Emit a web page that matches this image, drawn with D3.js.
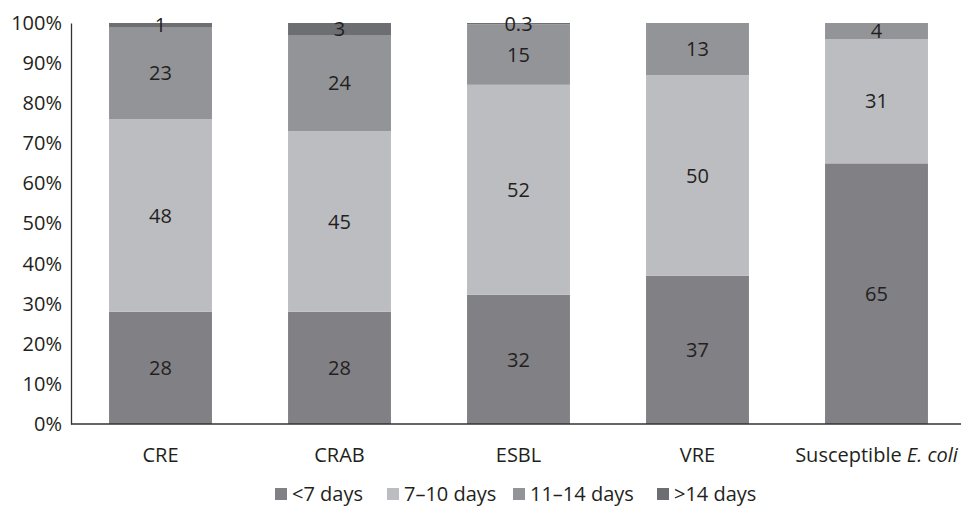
<!DOCTYPE html>
<html>
<head>
<meta charset="utf-8">
<script src="https://cdn.jsdelivr.net/npm/d3@7"></script>
<style>
  body { margin: 0; background: #fff; }
  text { font-family: "Open Sans", "Noto Sans", sans-serif; fill: #231f20; }
</style>
</head>
<body>
<svg id="chart" width="961" height="508"></svg>
<script>
var categories = ["CRE", "CRAB", "ESBL", "VRE", "Susceptible E. coli"];
var seriesNames = ["<7 days", "7\u201310 days", "11\u201314 days", ">14 days"];
var under7 = [28, 28, 32, 37, 65];
var days7to10 = [48, 45, 52, 50, 31];
var days11to14 = [23, 24, 15, 13, 4];
var over14 = [1, 3, 0.3, 0, 0];
var yTicks = [0, 0.1, 0.2, 0.3, 0.4, 0.5, 0.6, 0.7, 0.8, 0.9, 1];
var colors = ["#808085", "#bcbdc1", "#939498", "#6d6e72"];

var seriesValues = [under7, days7to10, days11to14, over14];
var rows = categories.map(function(c, i) {
  var r = { cat: c };
  seriesNames.forEach(function(s, j) { r[s] = seriesValues[j][i]; });
  return r;
});

var svg = d3.select("#chart");
var plotLeft = 71, plotRight = 966, plotTop = 23, plotBottom = 424;

var x = d3.scaleBand().domain(categories).range([plotLeft, plotRight]).paddingInner(0.425).paddingOuter(0.2125);
var y = d3.scaleLinear().domain([0, 1]).range([plotBottom, plotTop]);

var stack = d3.stack().keys(seriesNames).offset(d3.stackOffsetExpand);
var layers = stack(rows);

var g = svg.append("g");
layers.forEach(function(layer, j) {
  g.selectAll(null)
    .data(layer)
    .enter().append("rect")
    .attr("x", function(d) { return x(d.data.cat); })
    .attr("width", x.bandwidth())
    .attr("y", function(d) { return y(d[1]); })
    .attr("height", function(d) { return y(d[0]) - y(d[1]); })
    .attr("fill", colors[j]);
});

// segment value labels
layers.forEach(function(layer, j) {
  g.selectAll(null)
    .data(layer.filter(function(d) { return d.data[layer.key] > 0; }))
    .enter().append("text")
    .attr("x", function(d) { return x(d.data.cat) + x.bandwidth() / 2; })
    .attr("y", function(d) { return y((d[0] + d[1]) / 2); })
    .attr("dy", "0.36em")
    .attr("text-anchor", "middle")
    .attr("font-size", "20px")
    .text(function(d) { return d.data[layer.key]; });
});

// axes
var yAxis = svg.append("g")
  .attr("transform", "translate(" + plotLeft + ",0)")
  .call(d3.axisLeft(y).tickValues(yTicks).tickSize(0).tickPadding(9).tickFormat(d3.format(".0%")));
yAxis.select(".domain").attr("stroke", "#333").attr("stroke-width", 1.3);
yAxis.selectAll("text").attr("font-size", "20px").style("font-family", null);

svg.append("line")
  .attr("x1", plotLeft).attr("x2", 961)
  .attr("y1", plotBottom).attr("y2", plotBottom)
  .attr("stroke", "#333").attr("stroke-width", 1.3);

var xl = svg.append("g").selectAll(null)
  .data(categories)
  .enter().append("text")
  .attr("x", function(d) { return x(d) + x.bandwidth() / 2; })
  .attr("y", 462)
  .attr("text-anchor", "middle")
  .attr("font-size", "20px");
xl.each(function(d) {
  var t = d3.select(this);
  if (d.indexOf("E. coli") >= 0) {
    t.append("tspan").text("Susceptible ");
    t.append("tspan").attr("font-style", "italic").text("E. coli");
  } else {
    t.text(d);
  }
});

// legend
var legendX = [275, 387, 513, 657];
var legend = svg.append("g");
seriesNames.forEach(function(s, j) {
  legend.append("rect")
    .attr("x", legendX[j]).attr("y", 488)
    .attr("width", 12).attr("height", 12)
    .attr("fill", colors[j]);
  legend.append("text")
    .attr("x", legendX[j] + 17).attr("y", 501)
    .attr("font-size", "20px")
    .text(s);
});
</script>
</body>
</html>
